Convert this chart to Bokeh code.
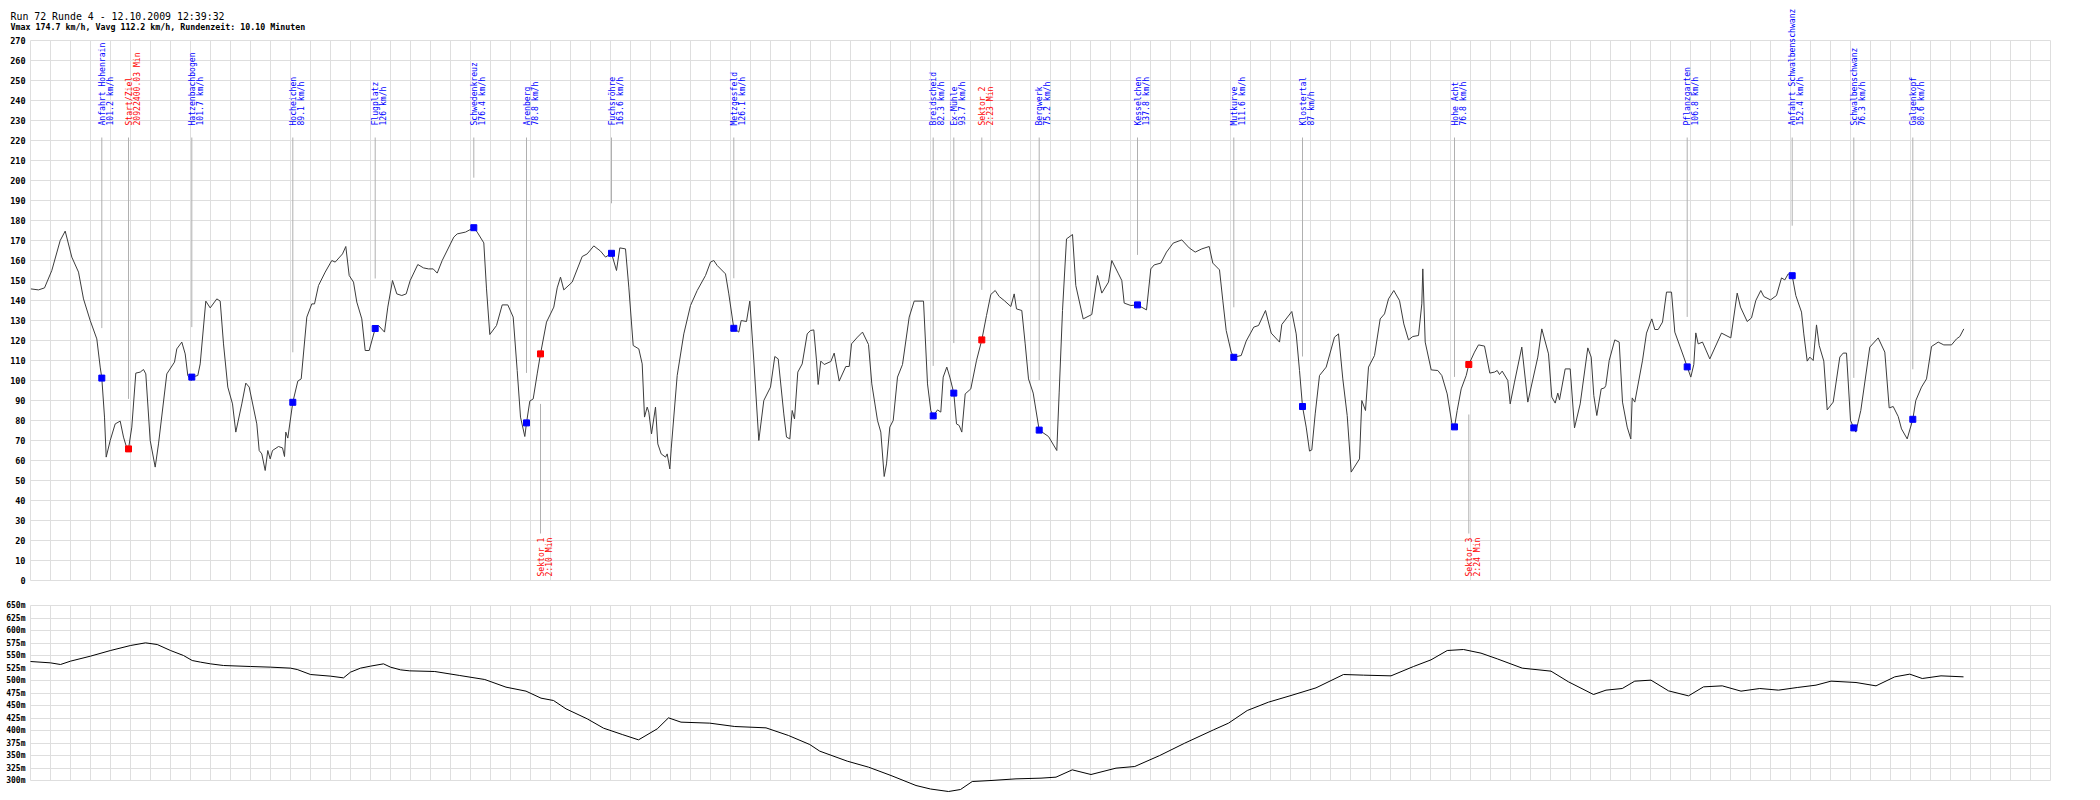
from math import pi
from bokeh.plotting import figure
from bokeh.models import ColumnDataSource, FixedTicker, PrintfTickFormatter, Range1d
from bokeh.layouts import column
from bokeh.core.properties import value
from bokeh.embed import file_html
from bokeh.resources import INLINE

TITLE = "Run 72 Runde 4 - 12.10.2009 12:39:32"
SUBTITLE = "Vmax 174.7 km/h, Vavg 112.2 km/h, Rundenzeit: 10.10 Minuten"

# ---- speed trace (position along lap, km/h) ----
speed_pos = [0.3, 8, 14, 21.3, 29.7, 34.7, 41.3, 48, 53, 59.7, 66.3, 69.7, 71.3, 74, 75.7, 79.7, 84.7, 89.7, 93, 97, 98,
             101.3, 105.3, 109.7, 113, 115.3, 119.7, 124.7, 128, 136.3, 144, 146.3, 151.3, 154.7, 157.3, 160.7, 161.3,
             167.3, 169.7, 175.3, 179.7, 186.3, 189.7, 193, 197.3, 202, 205.3, 211.3, 215.3, 218.7, 226.3, 228.7, 231.3,
             234.7, 237.3, 239.7, 242, 248, 252, 254, 255.3, 257.3, 262.3, 267.3, 270.7, 276.3, 281.3, 284, 288, 294.7,
             301.3, 304.7, 312, 315.3, 318.7, 323, 326.3, 331.3, 334.7, 338.7, 344.7, 348, 354, 357.3, 362, 366.3, 371.3,
             375.7, 379.7, 387.3, 393, 398, 402.7, 406.7, 411.7, 423.3, 426.7, 435, 443.3, 446.7, 453.3, 456, 459.3, 466,
             471.7, 477.3, 482.7, 486.7, 490, 494.3, 496, 499.3, 502.7, 506.7, 510, 516, 523.3, 526.7, 530, 533.3, 541.7,
             551.7, 556.7, 563.3, 570, 575, 581, 586, 589.3, 595, 598.3, 602.7, 608.3, 611.7, 614, 616.7, 618.3, 621, 625,
             627.3, 630.7, 635, 636.7, 639.3, 640.7, 646.7, 653.3, 660, 666.7, 675, 680, 683.3, 686.7, 695, 698.3, 703.3,
             708.3, 710.7, 716, 719.3, 723.3, 728.3, 733.3, 740, 744.3, 747.7, 753.3, 756, 759.3, 761.7, 764, 767.3,
             771.7, 776.7, 780, 783.3, 786, 787.7, 790.3, 793.7, 800.3, 803.7, 808.7, 815.3, 818.7, 821, 827, 832, 838,
             841.3, 847, 850.3, 853.7, 856, 859.3, 862.7, 867, 872, 878.7, 883.7, 893, 897, 900.3, 902.7, 907, 910.3,
             912.7, 916.3, 919.3, 923.3, 926, 928.7, 931.3, 934.7, 940.3, 946, 951.3, 956, 960.3, 964.7, 968.7, 973.7,
             980.3, 983.7, 986, 991.3, 994.7, 998, 1002.7, 1008.7, 1018, 1026.3, 1028.7, 1032, 1036, 1042, 1045.3,
             1052.7, 1061.3, 1067, 1071.3, 1078, 1081.3, 1088, 1091.3, 1093.7, 1100.3, 1107, 1116, 1120.3, 1123.7,
             1130.3, 1136, 1142.7, 1151.3, 1158.7, 1164.7, 1171.3, 1178.7, 1182.3, 1189, 1192.3, 1195.7, 1200.7, 1203.3,
             1210.7, 1215.7, 1223.3, 1228, 1235, 1240.7, 1249, 1251.3, 1261.3, 1265.7, 1269, 1272, 1275.7, 1279, 1281.3,
             1284.7, 1289, 1295.7, 1304, 1308, 1312.3, 1316.7, 1320.7, 1329, 1331.3, 1335, 1338, 1344, 1349.7, 1354,
             1358, 1363.3, 1369, 1373.3, 1378, 1382.3, 1388, 1391.3, 1392.3, 1394.7, 1400.7, 1407.3, 1411.3, 1416.7,
             1421.7, 1424, 1426.7, 1430.7, 1435.7, 1438.3, 1444, 1448, 1454, 1459.3, 1464, 1466.7, 1469, 1471.7, 1477.3,
             1479.7, 1484, 1491.3, 1497.3, 1507.3, 1511.3, 1518, 1521.3, 1524.7, 1527.3, 1529, 1534.7, 1539.7, 1544,
             1549.7, 1557.3, 1560.7, 1563.3, 1566.3, 1570.7, 1574, 1575.3, 1578.7, 1584.3, 1588.7, 1592, 1596.7, 1600.3,
             1601.7, 1604.3, 1612, 1616, 1621.3, 1624.3, 1627.7, 1632, 1636, 1641, 1644.3, 1653.3, 1656.7, 1660.3,
             1663.3, 1665.3, 1667.7, 1672, 1679.3, 1691, 1700.3, 1706.7, 1710, 1716.7, 1721, 1725.3, 1730.3, 1733.3,
             1740, 1746, 1751, 1754.3, 1757.7, 1761.7, 1765.3, 1771, 1773.3, 1776.7, 1779.3, 1782.7, 1786, 1788.7,
             1793.3, 1796.7, 1802.7, 1809.3, 1812.7, 1816, 1820, 1823.3, 1825.3, 1830.3, 1839.3, 1847.7, 1854.3, 1858.7,
             1862.7, 1867.7, 1871, 1876.7, 1882.3, 1885.3, 1891, 1896, 1901, 1907.7, 1913.3, 1921, 1926, 1929.3, 1933.3]
speed_kmh = [145.8, 145.3, 146.3, 155, 170, 174.7, 161.7, 154.2, 140.8, 130, 120.8, 106.7, 101.2, 81.7, 61.7, 70, 78.3,
             79.7, 71.7, 65, 65.8, 76.7, 103.7, 104.2, 105.5, 103.3, 70, 56.7, 68.3, 103.3, 109.2, 115.8, 119.2, 113.3,
             102.5, 100, 101.7, 102.5, 108.3, 139.7, 136.3, 140.8, 139.7, 118.3, 96.7, 88.3, 74.2, 88.3, 98.7, 96.7, 78.3,
             65, 63.3, 55, 65, 60.8, 65, 67, 66.3, 62, 74.2, 71.2, 89.1, 99.7, 100.8, 131.7, 138.3, 138.3, 147.5, 154.2,
             160, 159.2, 163.3, 167, 152.5, 149.2, 139.2, 130.8, 115, 115, 126, 127.5, 124.2, 136.7, 150, 143.3, 142.5,
             143.3, 150, 158, 156.3, 155.8, 155.8, 153.7, 160, 171.7, 173.3, 174.2, 176.4, 174.2, 168.8, 145.8, 123, 127.5,
             137.8, 137.8, 131.7, 105, 81.7, 72, 78.8, 89.7, 90.8, 103.3, 113.3, 129.2, 136.7, 146.3, 151.7, 145.3, 149.2,
             162, 163.3, 167.3, 164.7, 161.7, 163.6, 155, 166.3, 165.8, 146.7, 117.5, 115.8, 108.3, 81.7, 86.7, 84.2,
             73.3, 86.7, 68.3, 63.3, 61.7, 63.3, 55.8, 65.8, 102.5, 123.3, 137.5, 145, 152.5, 159.2, 160, 157.5, 153.3,
             143.3, 126.1, 124.2, 130, 129.5, 139.7, 110, 70, 90, 96.7, 112, 110.8, 83.3, 71.7, 70.8, 85, 80.8, 104.2,
             108.3, 123.3, 125, 125.3, 110, 98, 109.7, 108, 109.5, 113.7, 99.7, 107, 107, 118.3, 121.7, 124.2, 118, 98.3,
             80, 74.2, 52, 58.3, 76.7, 80, 101.7, 108, 131.7, 139.7, 139.7, 98.3, 85, 82.3, 85.3, 84.2, 101.7, 106.7,
             101.7, 93.7, 78.3, 77.5, 74.2, 93.3, 95.8, 110, 120.3, 132.5, 143, 145, 142, 140, 137, 143.3, 135.8, 135,
             118.3, 100.8, 93.7, 75.2, 72, 65, 94.2, 135, 170.8, 173, 147.5, 130.8, 133, 152.5, 143.7, 149.2, 160, 153.3,
             150, 138.7, 137.5, 137.8, 135.3, 155.8, 157.8, 158.7, 164.2, 168.7, 170.3, 166.3, 164.2, 165.8, 167, 158.7,
             155.3, 140, 125, 114.2, 111.6, 112.5, 119.7, 126.7, 127.5, 135, 123.7, 119.2, 128, 134.5, 123.3, 105, 87,
             76.7, 64.7, 65.3, 83.3, 102.5, 106.7, 121.7, 123.3, 100.8, 82.5, 54.2, 60.8, 90, 85, 106.7, 112.5, 130.8,
             133.3, 140.8, 145, 140, 128.3, 120.3, 122, 122.5, 138.3, 155.8, 119.2, 105.3, 105, 102.5, 93.3, 77.5, 76.8,
             85, 95.8, 102.5, 108, 114.2, 117.8, 117.2, 103.7, 104.2, 105, 103, 104.7, 100, 88.3, 99.2, 116.7, 89.2,
             111.7, 125.8, 113.3, 91.7, 88.7, 93.7, 90.3, 105.8, 105.8, 76.3, 88.3, 116.3, 111.7, 92.5, 82.5, 95.8, 96.3,
             97.5, 110, 120.3, 119.2, 89.2, 76.7, 70.8, 91.3, 89.2, 110, 123.7, 130.8, 125.5, 125.5, 129.2, 144.2, 144.2,
             124.2, 111.7, 106.8, 101.7, 108, 123.8, 118.3, 119.2, 110.8, 123.7, 121.3, 143.7, 136.7, 129.5, 131.3, 140,
             145, 142, 140.3, 142.5, 151.3, 150.3, 153.3, 152.4, 142.5, 134.2, 123.3, 109.7, 111.7, 110, 127.8, 117.5,
             109.7, 85.3, 89.2, 111.7, 113.7, 113.7, 80, 76.3, 74.2, 85, 116.7, 121.3, 114.2, 86.3, 87, 82, 75.8, 70.8,
             80.6, 90, 96.7, 100.8, 117, 119.2, 117.8, 117.8, 120.8, 122, 125.8]

# ---- elevation profile (position along lap, metres) ----
elev_pos = [0, 20, 30, 40, 60, 80, 100, 115, 126.7, 140, 153, 161.7, 170, 180, 193, 220, 240, 260, 266.7, 280, 300,
            313, 320, 330, 340, 353, 360, 370, 379.25, 404.25, 429.25, 454.25, 475.5, 495.5, 510.5, 523, 535.5, 556.75,
            573, 591.75, 608, 626.75, 638, 650.5, 679.25, 704.25, 735.5, 758, 779.25, 789.25, 816.75, 838, 860.5,
            885.5, 900, 918, 930, 941.75, 960.5, 985.5, 1010.5, 1025.5, 1041.75, 1060.5, 1085.5, 1104.25, 1129.25,
            1154.25, 1183, 1198, 1216.75, 1238, 1260.5, 1285.5, 1313, 1333, 1360.5, 1383, 1400.5, 1416.75, 1433,
            1450.5, 1466.75, 1491.75, 1520.5, 1538, 1563, 1575.5, 1591.75, 1604.25, 1620.5, 1638, 1658, 1673, 1691.75,
            1710.5, 1729.25, 1748, 1766.75, 1785.5, 1800.5, 1825.5, 1845.5, 1864.25, 1879.25, 1891.75, 1910.5, 1933]
elev_m = [538, 535.3, 532, 538.7, 548.7, 560, 570, 575.3, 572, 560, 550, 540, 536.7, 533.3, 530, 528, 526.7, 524.7,
          522, 512, 508.7, 505.3, 516.7, 524.7, 528.7, 533.3, 526.7, 521.3, 519.3, 518, 510, 502, 486.7, 478.7, 464.7,
          460, 443.3, 423.3, 404.7, 392, 381.3, 403.3, 425.3, 416.7, 414.7, 408, 405.3, 390, 372, 358.7, 338.7, 326.7,
          310, 290, 283, 278, 282, 298, 300, 303.3, 304.7, 306.7, 321.3, 312, 324.7, 328, 350, 374.7, 401.3, 414.7, 440,
          456.7, 470, 485.3, 512, 510.7, 509.3, 528, 541.3, 560, 562, 554.7, 543.3, 524.7, 518.7, 497.3, 472, 480.7,
          484, 498.7, 500.7, 479.3, 469.3, 487.3, 489.3, 478.7, 484, 480.7, 486, 490.7, 498.7, 496, 489.3, 507.3, 512.7,
          504, 509.3, 507.3]

# ---- named corners (blue) ----
corner_names = ["Anfahrt Hohenrain", "Hatzenbachbogen", "Hocheichen", "Flugplatz", "Schwedenkreuz", "Arenberg",
                "Fuchsröhre", "Metzgesfeld", "Breidscheid", "Ex-Mühle", "Bergwerk", "Kesselchen", "Mutkurve",
                "Klostertal", "Hohe Acht", "Pflanzgarten", "Anfahrt Schwalbenschwanz", "Schwalbenschwanz",
                "Galgenkopf"]
corner_pos = [71.3, 161.3, 262.3, 344.7, 443.3, 496, 581, 703.3, 902.7, 923.3, 1008.7, 1107, 1203.3, 1272, 1424,
              1656.7, 1761.7, 1823.3, 1882.3]
corner_speed = [101.2, 101.7, 89.1, 126, 176.4, 78.8, 163.6, 126.1, 82.3, 93.7, 75.2, 137.8, 111.6, 87, 76.8, 106.8,
                152.4, 76.3, 80.6]

# ---- start/finish and sector marks (red) ----
sector_names = ["Start/Ziel", "Sektor 1", "Sektor 2", "Sektor 3"]
sector_pos = [98, 510, 951.3, 1438.3]
sector_speed = [65.8, 113.3, 120.3, 108]
sector_times = ["20922400.03 Min", "2:10 Min", "2:23 Min", "2:24 Min"]

# ---- axes ----
speed_ticks = list(range(0, 271, 10))
elev_ticks = list(range(300, 651, 25))
pos_grid = list(range(0, 2021, 20))

GRID = "#dedede"
MONO = "DejaVu Sans Mono"
BLUE = "#0000ff"
RED = "#ff0000"
LEAD = "#b0b0b0"

X_MAX = 2020
FRAME_W = 2020
LEFT = 30
RIGHT = 10


def base_fig(yr, frame_h, top, bottom, ticks):
    f = figure(width=LEFT + FRAME_W + RIGHT, height=top + frame_h + bottom,
               frame_width=FRAME_W, frame_height=frame_h,
               x_range=Range1d(0, X_MAX), y_range=Range1d(*yr),
               x_axis_location=None, output_backend="svg", toolbar_location=None,
               min_border_left=LEFT, min_border_right=RIGHT, min_border_top=top, min_border_bottom=bottom)
    f.outline_line_color = GRID
    f.background_fill_color = "white"
    f.border_fill_color = "white"
    f.xgrid.ticker = FixedTicker(ticks=pos_grid)
    f.xgrid.grid_line_color = GRID
    f.ygrid.grid_line_color = GRID
    f.yaxis.ticker = FixedTicker(ticks=ticks)
    f.yaxis.axis_line_color = None
    f.yaxis.major_tick_line_color = None
    f.yaxis.minor_tick_line_color = None
    f.yaxis.major_tick_out = 0
    f.yaxis.major_tick_in = 0
    f.yaxis.major_label_standoff = 5
    f.yaxis.major_label_text_font = MONO
    f.yaxis.major_label_text_font_style = "bold"
    f.yaxis.major_label_text_color = "#000000"
    return f


# ================= speed chart =================
p = base_fig((0, 270), 540, 40, 10, speed_ticks)
p.yaxis.major_label_text_font_size = "8.5px"

p.line(speed_pos, speed_kmh, line_color="#3c3c3c", line_width=1)

top_y0 = 221.5
corner_src = ColumnDataSource(dict(
    x=corner_pos, v=corner_speed, name=corner_names,
    val=[f"{v:g} km/h" for v in corner_speed],
    y0=[top_y0] * len(corner_pos), y1=[v + 25 for v in corner_speed],
    ty=[227.5] * len(corner_pos)))
p.segment(x0="x", y0="y0", x1="x", y1="y1", source=corner_src, line_color=LEAD, line_width=1)
p.scatter(x="x", y="v", source=corner_src, marker="square", size=6, fill_color=BLUE, line_color=BLUE)

below = [i % 2 == 1 for i in range(len(sector_names))]
sec_y0 = [(v - 25) if b else top_y0 for v, b in zip(sector_speed, below)]
sec_y1 = [23.5 if b else (v + 25) for v, b in zip(sector_speed, below)]
sec_ty = [2 if b else 227.5 for b in below]
sector_src = ColumnDataSource(dict(x=sector_pos, v=sector_speed, name=sector_names, val=sector_times,
                                   y0=sec_y0, y1=sec_y1, ty=sec_ty))
p.segment(x0="x", y0="y0", x1="x", y1="y1", source=sector_src, line_color=LEAD, line_width=1)
p.scatter(x="x", y="v", source=sector_src, marker="square", size=6, fill_color=RED, line_color=RED)

for src, col in ((corner_src, BLUE), (sector_src, RED)):
    for field, off in (("name", 0), ("val", 8)):
        p.text(x="x", y="ty", text=field, source=src, angle=pi / 2, x_offset=off,
               text_align="left", text_baseline="middle", text_font=value(MONO),
               text_font_size=value("8.1px"), text_color=col, level="overlay")

# page title (above the frame, unclipped overlay level)
p.text(x=[-20], y=[282], text=[TITLE], text_font=value(MONO), text_font_size=value("9.9px"),
       text_color="#000000", text_baseline="alphabetic", text_align="left", level="overlay")
p.text(x=[-20], y=[276.9], text=[SUBTITLE], text_font=value(MONO), text_font_size=value("8.3px"),
       text_font_style="bold", text_color="#000000", text_baseline="alphabetic", text_align="left",
       level="overlay")

# ================= elevation chart =================
e = base_fig((300, 650), 175, 15, 15, elev_ticks)
e.yaxis.formatter = PrintfTickFormatter(format="%dm")
e.yaxis.major_label_text_font_size = "8px"
e.line(elev_pos, elev_m, line_color="#000000", line_width=1, level="overlay")

layout = column(p, e, spacing=0)
open("out.html", "w").write(file_html(layout, INLINE))
